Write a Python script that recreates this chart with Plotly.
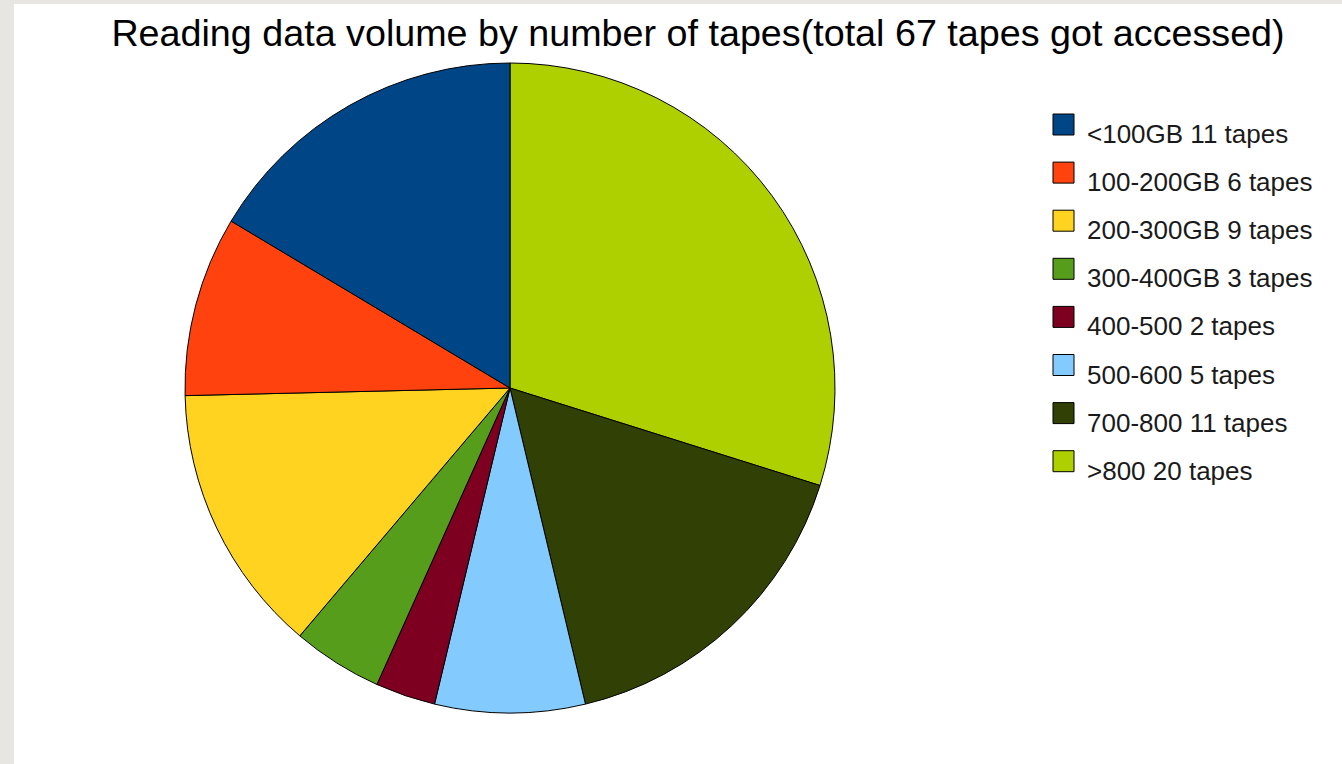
import plotly.graph_objects as go

W, H = 1342, 764

labels = ["<100GB 11 tapes", "100-200GB 6 tapes", "200-300GB 9 tapes", "300-400GB 3 tapes",
          "400-500 2 tapes", "500-600 5 tapes", "700-800 11 tapes", ">800 20 tapes"]
tapes = [11, 6, 9, 3, 2, 5, 11, 20]
colors = ["#004586", "#ff420e", "#ffd320", "#579d1c", "#7e0021", "#83caff", "#314004", "#aecf00"]
title_text = "Reading data volume by number of tapes(total 67 tapes got accessed)"

FONT = "Liberation Sans, Arial, sans-serif"

# pie geometry (pixels)
cx, cy, r = 510, 388, 325

# The original chart runs the slices counter-clockwise from 12 o'clock;
# equivalently, the reversed list runs clockwise from 12 o'clock.
fig = go.Figure()
fig.add_trace(go.Pie(
    labels=labels[::-1], values=tapes[::-1], sort=False, direction="clockwise", rotation=0,
    marker=dict(colors=colors[::-1], line=dict(color="#000000", width=1)),
    textinfo="none", hoverinfo="label+value+percent", showlegend=False,
    domain=dict(x=[(cx - r) / W, (cx + r) / W], y=[(H - cy - r) / H, (H - cy + r) / H]),
))

def px_x(x):
    return x / W

def px_y(y):
    return 1 - y / H

shapes = [dict(type="rect", xref="paper", yref="paper", x0=px_x(14), x1=1, y0=0, y1=px_y(4),
               fillcolor="#ffffff", line=dict(width=0), layer="below")]
annotations = []

leg_x0, leg_size, leg_top, leg_step, text_x = 1053, 21, 114, 48.1, 1085
for i, (lab, col) in enumerate(zip(labels, colors)):
    top = leg_top + leg_step * i
    shapes.append(dict(type="rect", xref="paper", yref="paper",
                       x0=px_x(leg_x0), x1=px_x(leg_x0 + leg_size),
                       y0=px_y(top + leg_size), y1=px_y(top),
                       fillcolor=col, line=dict(color="#000000", width=1), layer="above"))
    annotations.append(dict(text=lab, xref="paper", yref="paper", x=px_x(text_x), y=px_y(top + 20),
                            xanchor="left", yanchor="middle", showarrow=False,
                            font=dict(family=FONT, size=26, color="#1a1a1a")))

fig.update_layout(
    width=W, height=H, autosize=False,
    margin=dict(l=0, r=0, t=0, b=0),
    paper_bgcolor="#e8e6e3",
    title=dict(text=title_text, x=698 / W, xanchor="center", xref="paper",
               y=1 - 20 / H, yanchor="top", yref="container",
               font=dict(family=FONT, size=37.7, color="#000000")),
    shapes=shapes, annotations=annotations,
)

fig.write_html("out.html")
